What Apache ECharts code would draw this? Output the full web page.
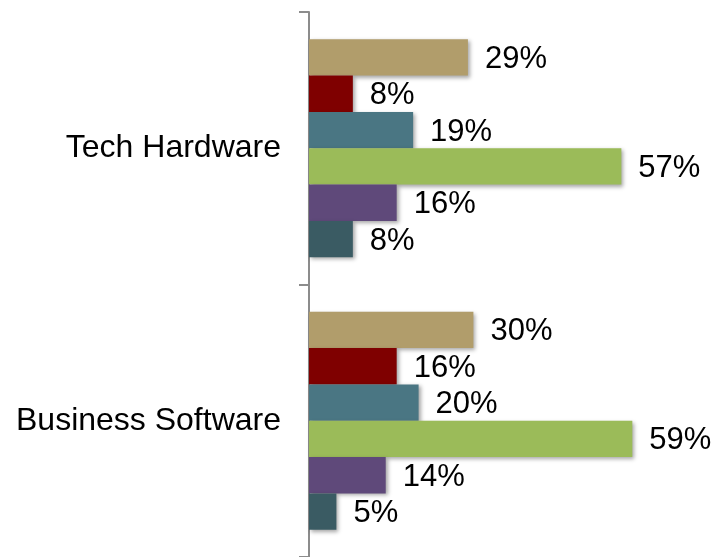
<!DOCTYPE html>
<html>
<head>
<meta charset="utf-8">
<script src="https://cdn.jsdelivr.net/npm/echarts@6/dist/echarts.min.js"></script>
<style>
  html, body { margin: 0; padding: 0; background: #ffffff; }
  #chart { width: 718px; height: 557px; }
</style>
</head>
<body>
<div id="chart"></div>
<script>
// Sectors shown on the category axis (top to bottom)
const categories = ['Tech Hardware', 'Business Software'];

// One series per bar position inside each sector group (top to bottom)
const seriesA = [29, 30];
const seriesB = [8, 16];
const seriesC = [19, 20];
const seriesD = [57, 59];
const seriesE = [16, 14];
const seriesF = [8, 5];

const seriesList = [
  { name: 'A', data: seriesA, color: '#B19D6B' },
  { name: 'B', data: seriesB, color: '#7F0000' },
  { name: 'C', data: seriesC, color: '#4A7683' },
  { name: 'D', data: seriesD, color: '#9BBB59' },
  { name: 'E', data: seriesE, color: '#5F497A' },
  { name: 'F', data: seriesF, color: '#3A5B63' }
];

const chart = echarts.init(document.getElementById('chart'), null, { renderer: 'canvas' });

chart.setOption({
  animation: false,
  backgroundColor: '#ffffff',
  grid: { left: 309, top: 12, width: 383.6, height: 546 },
  xAxis: {
    type: 'value',
    min: 0,
    max: 70,
    show: false
  },
  yAxis: {
    type: 'category',
    data: categories,
    inverse: true,
    axisLine: { show: true, lineStyle: { color: '#8C8C8C', width: 2 } },
    axisTick: { show: true, length: 10, lineStyle: { color: '#8C8C8C', width: 2 } },
    axisLabel: {
      margin: 28,
      color: '#000000',
      fontFamily: 'Liberation Sans, Arial, sans-serif',
      fontSize: 32
    },
    splitLine: { show: false }
  },
  series: seriesList.map(s => ({
    type: 'bar',
    name: s.name,
    data: s.data,
    barGap: 0,
    barCategoryGap: '20%',
    itemStyle: {
      color: s.color,
      shadowColor: 'rgba(0,0,0,0.35)',
      shadowBlur: 4,
      shadowOffsetX: 2,
      shadowOffsetY: 2
    },
    label: {
      show: true,
      position: 'right',
      distance: 17,
      offset: [0, 2],
      color: '#000000',
      fontFamily: 'Liberation Sans, Arial, sans-serif',
      fontSize: 31,
      formatter: p => p.value + '%'
    }
  }))
});
</script>
</body>
</html>
